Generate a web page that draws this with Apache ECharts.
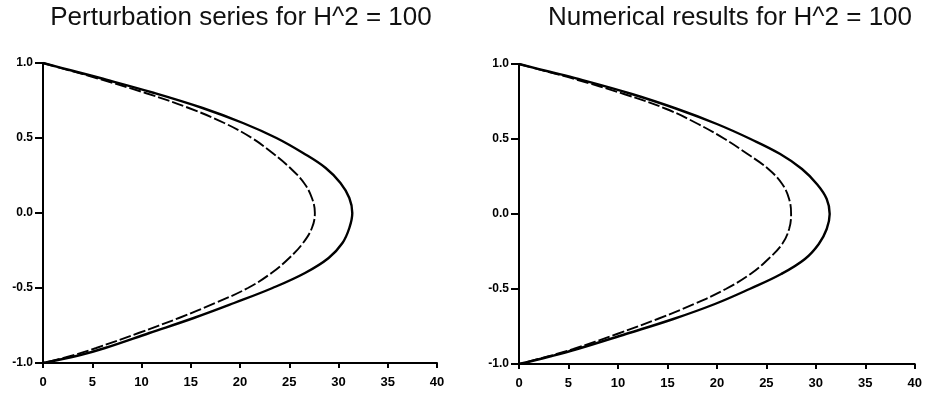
<!DOCTYPE html>
<html>
<head>
<meta charset="utf-8">
<script src="https://cdn.jsdelivr.net/npm/echarts@6/dist/echarts.min.js"></script>
<style>
  html, body { margin: 0; padding: 0; background: #fff; }
  #chart { width: 925px; height: 393px; }
</style>
</head>
<body>
<div id="chart"></div>
<script>
// Titles
const titles = ['Perturbation series for H^2 = 100', 'Numerical results for H^2 = 100'];

// Axis ticks
const xTicks = [0, 5, 10, 15, 20, 25, 30, 35, 40];
const yTicks = [-1.0, -0.5, 0.0, 0.5, 1.0];

// Cross-channel positions (y) at which the profiles were read
const yLevels = [1, 0.95, 0.9, 0.8, 0.7, 0.6, 0.5, 0.4, 0.3, 0.2, 0.1, 0,
                 -0.1, -0.2, -0.3, -0.4, -0.5, -0.6, -0.7, -0.8, -0.9, -0.95, -1];

// Left panel (perturbation series)
const leftSolid  = [0, 2.9, 5.8, 11.3, 16.2, 20.3, 23.7, 26.4, 28.7, 30.2, 31.1, 31.4,
                    31.1, 30.4, 29.0, 26.6, 23.3, 19.4, 15.3, 10.8, 6.3, 3.6, 0];
const leftDashed = [0, 2.7, 5.4, 10.4, 14.8, 18.4, 21.2, 23.3, 25.1, 26.5, 27.3, 27.6,
                    27.3, 26.4, 25.0, 23.2, 20.8, 17.5, 13.8, 9.7, 5.4, 3.0, 0];

// Right panel (numerical results)
const rightSolid  = [0, 3.0, 6.0, 11.4, 16.0, 20.0, 23.4, 26.4, 28.6, 30.1, 31.1, 31.4,
                     31.1, 30.3, 28.9, 26.5, 23.3, 19.8, 15.6, 10.8, 5.9, 3.1, 0];
const rightDashed = [0, 2.8, 5.6, 10.6, 14.9, 18.1, 20.8, 23.1, 25.2, 26.6, 27.3, 27.5,
                     27.3, 26.6, 25.2, 23.4, 20.9, 17.7, 14.0, 9.9, 5.5, 2.9, 0];

function pairs(xs) { return xs.map((x, i) => [x, yLevels[i]]); }

const FONT = 'Liberation Sans';

function makeX(i) {
  return {
    gridIndex: i, type: 'value',
    min: xTicks[0], max: xTicks[xTicks.length - 1], interval: xTicks[1] - xTicks[0],
    axisLine: { onZero: false, lineStyle: { color: '#000', width: 2 } },
    axisTick: { show: true, length: 5, lineStyle: { color: '#000', width: 2 } },
    axisLabel: { color: '#000', fontFamily: FONT, fontWeight: 'bold', fontSize: 13, margin: 13 },
    splitLine: { show: false }
  };
}
function makeY(i) {
  return {
    gridIndex: i, type: 'value',
    min: yTicks[0], max: yTicks[yTicks.length - 1], interval: yTicks[1] - yTicks[0],
    axisLine: { onZero: false, lineStyle: { color: '#000', width: 2 } },
    axisTick: { show: true, length: 8, lineStyle: { color: '#000', width: 2 } },
    axisLabel: { color: '#000', fontFamily: FONT, fontWeight: 'bold', fontSize: 12, margin: 10,
                 formatter: v => v.toFixed(1) },
    splitLine: { show: false }
  };
}
function solid(i, xs) {
  return { type: 'line', xAxisIndex: i, yAxisIndex: i, data: pairs(xs), symbol: 'none',
           smooth: 0.4, lineStyle: { color: '#000', width: 2.4, type: 'solid' } };
}
function dashed(i, xs) {
  return { type: 'line', xAxisIndex: i, yAxisIndex: i, data: pairs(xs), symbol: 'none',
           smooth: 0.4, lineStyle: { color: '#000', width: 1.9, type: [12, 3] } };
}

const chart = echarts.init(document.getElementById('chart'), null, { renderer: 'canvas' });
chart.setOption({
  animation: false,
  backgroundColor: '#fff',
  title: [
    { text: titles[0], left: 241, top: 5, textAlign: 'center', padding: 0,
      textStyle: { fontFamily: FONT, fontSize: 26, fontWeight: 'normal', color: '#111' } },
    { text: titles[1], left: 730, top: 5, textAlign: 'center', padding: 0,
      textStyle: { fontFamily: FONT, fontSize: 26, fontWeight: 'normal', color: '#111' } }
  ],
  grid: [
    { left: 43, top: 63, width: 394, height: 300 },
    { left: 519, top: 64, width: 396, height: 300 }
  ],
  xAxis: [makeX(0), makeX(1)],
  yAxis: [makeY(0), makeY(1)],
  series: [
    solid(0, leftSolid), dashed(0, leftDashed),
    solid(1, rightSolid), dashed(1, rightDashed)
  ]
});
</script>
</body>
</html>
